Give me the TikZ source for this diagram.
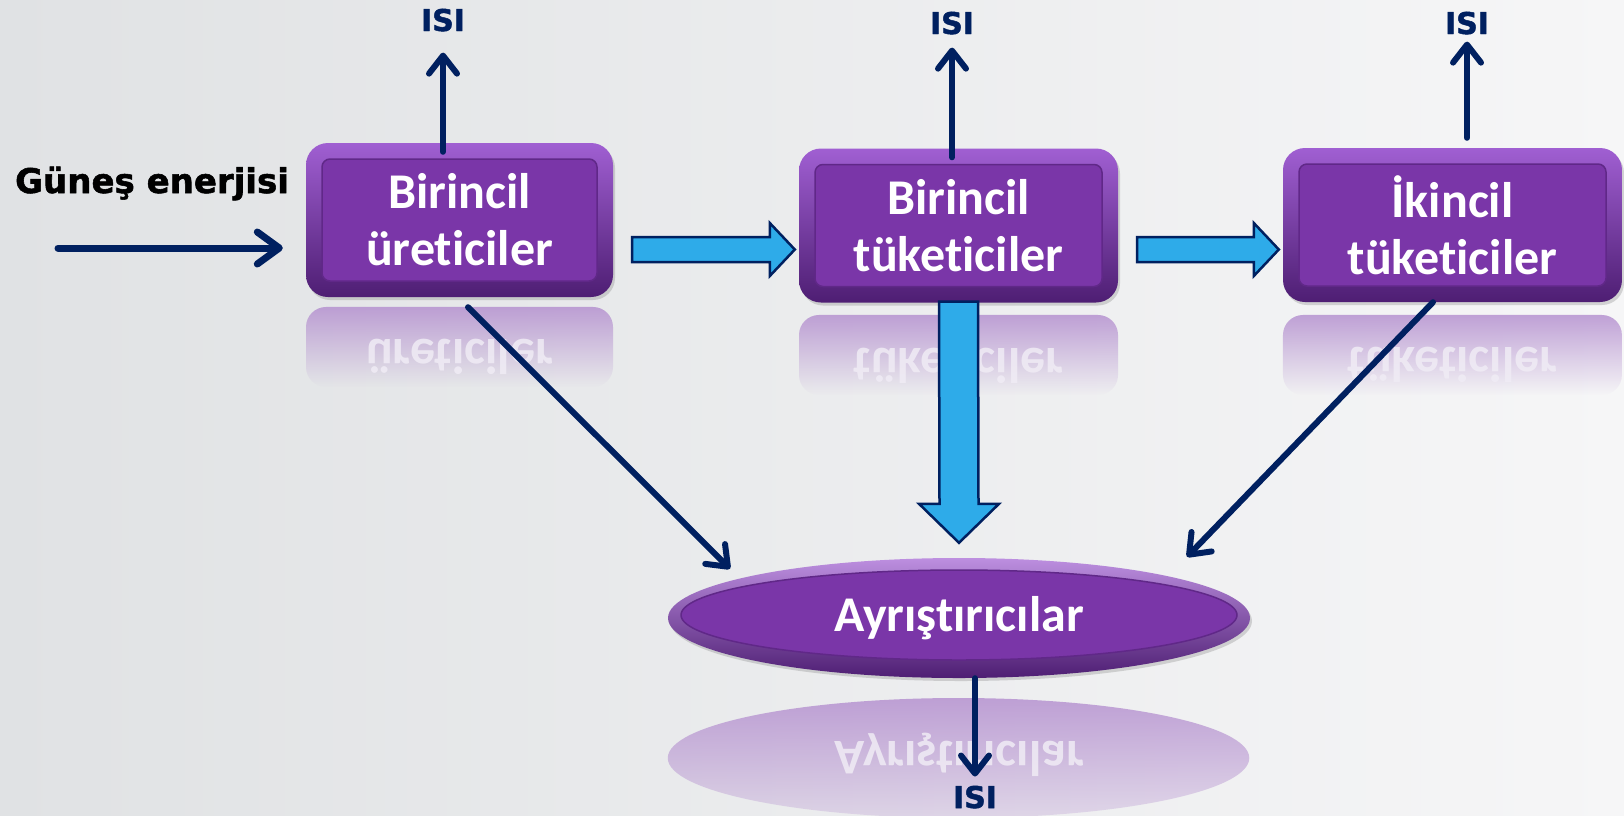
\documentclass[tikz,border=0pt]{standalone}
\usepackage{fontspec}
\usepackage{tikz}
\usetikzlibrary{arrows.meta,calc,shadows,fadings,shapes.geometric}
\newfontfamily\boxfont{Carlito}[Ligatures=NoCommon]
\newfontfamily\labelfont{DejaVu Sans}[BoldFeatures={FakeBold=1.6}]
\definecolor{boxpurple}{RGB}{122,54,168}
\definecolor{rimlight}{RGB}{160,95,210}
\definecolor{rimdark}{RGB}{78,30,115}
\definecolor{edgepurple}{RGB}{96,40,136}
\definecolor{heatblue}{RGB}{0,32,96}
\definecolor{flowblue}{RGB}{46,171,233}
\definecolor{bgleft}{RGB}{224,226,228}
\definecolor{bgright}{RGB}{246,246,247}
\definecolor{reflpurple}{RGB}{178,140,206}
\definecolor{refltext}{RGB}{240,236,245}
\tikzfading[name=reflfade, top color=transparent!20, bottom color=transparent!100]
\tikzfading[name=ellfade, top color=transparent!20, bottom color=transparent!75]
\def\rim{16}

\begin{document}
\begin{tikzpicture}[x=1pt, y=-1pt]
    \tikzstyle{level}=[rectangle, rounded corners=22pt, inner sep=0pt, minimum height=154pt, align=center, text=white, font=\boxfont\bfseries\fontsize{50}{57}\selectfont, top color=rimlight, bottom color=rimdark, drop shadow={opacity=0.3, shadow xshift=2pt, shadow yshift=-3pt}, path picture={\draw[edgepurple, line width=1.5pt, fill=boxpurple, rounded corners=8pt] ($(path picture bounding box.south west)+(\rim,-\rim)$) rectangle ($(path picture bounding box.north east)+(-\rim,\rim)$);}]
    \tikzstyle{sink}=[ellipse, inner sep=0pt, minimum width=582pt, minimum height=120pt, text=white, font=\boxfont\bfseries\fontsize{50}{57}\selectfont, top color=rimlight!70!white, bottom color=rimdark, drop shadow={opacity=0.3, shadow xshift=2pt, shadow yshift=-3pt}, path picture={\draw[edgepurple, line width=1.5pt, fill=boxpurple] ($(path picture bounding box.center)+(0,-3)$) ellipse [x radius=278pt, y radius=45pt];}]
    \tikzstyle{heat}=[inner sep=0pt, anchor=base, text=heatblue, font=\labelfont\bfseries\fontsize{30}{30}\selectfont]
    \tikzstyle{sunlbl}=[inner sep=0pt, anchor=base west, text=black, font=\labelfont\bfseries\fontsize{34}{34}\selectfont]
    \tikzstyle{flow}=[draw=heatblue, line width=6pt, line cap=round, -{Straight Barb[round, length=18pt, width=28pt]}]
    \tikzstyle{fat}=[fill=flowblue, draw=heatblue, line width=2.5pt]
    \tikzstyle{mirror}=[yscale=-1, transform shape, anchor=base, inner sep=0pt, text=refltext, text opacity=0.85, font=\boxfont\bfseries\fontsize{50}{57}\selectfont]

    % Background
    \useasboundingbox (0,0) rectangle (1624,815);
    \shade[left color=bgleft, right color=bgright] (0,0) rectangle (1624,815);

    % Reflections under the boxes
    \foreach \l/\r/\t/\bl/\txt in {306/613/307/339/üreticiler, 799/1118/315/348/tüketiciler, 1283/1622/315/347/tüketiciler} {
        \fill[reflpurple, rounded corners=20pt, path fading=reflfade] (\l,\t) rectangle (\r,\t+80);
        \node[mirror] at ({(\l+\r)/2},\bl) {\txt};
    }
    \fill[reflpurple, path fading=ellfade] (959,758) ellipse [x radius=291pt, y radius=60pt];
    \node[mirror] at (959,741) {Ayrıştırıcılar};

    % Draw the trophic levels
    \node[level, minimum width=307pt] (prod) at (459.5,220) {Birincil\\üreticiler};
    \node[level, minimum width=319pt] (cons1) at (958.5,225.5) {Birincil\\tüketiciler};
    \node[level, minimum width=339pt] (cons2) at (1452.5,225) {İkincil\\tüketiciler};
    \node[sink] (decomp) at (959,618) {Ayrıştırıcılar};

    % Heat labels
    \node[heat] (heat1) at (443,31) {ISI};
    \node[heat] (heat2) at (952,34) {ISI};
    \node[heat] (heat3) at (1467,34) {ISI};
    \node[heat] (heat4) at (975,808) {ISI};
    \node[sunlbl] (sun) at (15,193) {Güneş enerjisi};
    \coordinate (sunin) at (58,248);

    % Energy flow between the levels
    \coordinate (f1a) at ([xshift=19pt, yshift=-29.5pt]prod.east);
    \coordinate (f1b) at ([xshift=-4pt, yshift=-24pt]cons1.west);
    \coordinate (f2a) at ([xshift=19pt, yshift=-24pt]cons1.east);
    \coordinate (f2b) at ([xshift=-4pt, yshift=-24.5pt]cons2.west);
    \foreach \a/\b in {f1a/f1b, f2a/f2b}
        \draw[fat] ($(\a)+(0,-12.5)$) -- ($(\b)+(-25,-12.5)$) -- ($(\b)+(-25,-26.5)$) -- (\b)
            -- ($(\b)+(-25,26.5)$) -- ($(\b)+(-25,12.5)$) -- ($(\a)+(0,12.5)$) -- cycle;
    \coordinate (f3a) at ([yshift=1pt]cons1.south);
    \coordinate (f3b) at ([yshift=15pt]decomp.north);
    \draw[fat] ($(f3a)+(-19.5,0)$) -- ($(f3b)+(-19.5,-39)$) -- ($(f3b)+(-40,-39)$) -- (f3b)
        -- ($(f3b)+(40,-39)$) -- ($(f3b)+(19.5,-39)$) -- ($(f3a)+(19.5,0)$) -- cycle;

    % Sun input and heat losses
    \draw[flow, line width=7pt, -{Straight Barb[round, length=22pt, width=32pt]}] (sunin) -- ([xshift=-23pt, yshift=-28pt]prod.west);
    \draw[flow, shorten <=-9pt, shorten >=21pt] (heat1.south |- prod.north) -- (heat1.south);
    \draw[flow, shorten <=-9pt, shorten >=13pt] (heat2.south |- cons1.north) -- (heat2.south);
    \draw[flow, shorten <=10pt, shorten >=7pt] (heat3.south |- cons2.north) -- (heat3.south);
    \draw[flow, shorten >=9pt] (decomp.south -| heat4.north) -- (heat4.north);

    % Dead matter to the decomposers
    \draw[flow] ([xshift=8.5pt, yshift=-10pt]prod.south) -- ([xshift=-229pt, yshift=-11pt]decomp.north);
    \draw[flow] ([xshift=-19.5pt]cons2.south) -- ([xshift=228pt, yshift=1pt]decomp.north);
\end{tikzpicture}
\end{document}
